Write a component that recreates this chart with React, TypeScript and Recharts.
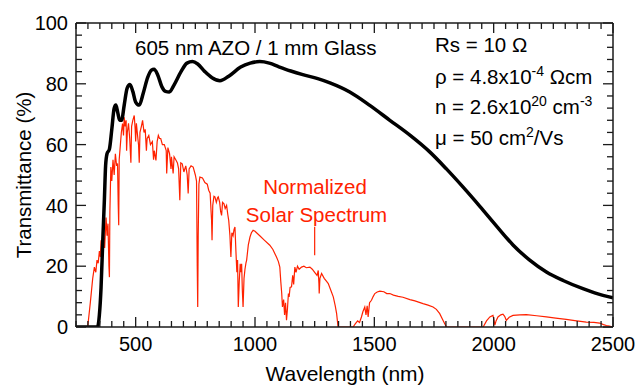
import React from 'react';
import { LineChart, Line, XAxis, YAxis, ReferenceLine, Customized } from 'recharts';

// AZO film transmittance (nm, %)
const filmNm = [
  250, 300, 340, 348, 355, 362, 369, 374, 380, 390, 400, 410, 417, 425, 433, 441, 452, 464, 476,
  488, 500, 515, 532, 550, 566, 577, 592, 610, 625, 641, 660, 690, 715, 738, 760, 790, 820, 853,
  890, 940, 980, 1020, 1060, 1100, 1150, 1200, 1263, 1314, 1397, 1481, 1565, 1649, 1732, 1802,
  1872, 1942, 2012, 2081, 2151, 2221, 2291, 2374, 2458, 2500,
];
const filmT = [
  0, 0, 0, 4, 13, 28, 42, 53, 57, 58.5, 65, 72, 73, 70.5, 68, 68, 73, 78.5, 79.8,
  77.5, 74, 73, 77, 82, 84.5, 84.8, 83, 79, 77.5, 77.3, 79.5, 84, 86.8, 87.3, 86.5, 84, 82, 81,
  82.5, 85.5, 86.8, 87.3, 86.8, 85.6, 84.2, 83, 81.7, 80.3, 77.3, 72.9, 68, 63.1, 57.6, 52,
  46, 39.7, 33.2, 27, 22, 18.1, 15.3, 12.6, 10.4, 9.6,
];

// normalized AM1.5 solar spectrum (nm, %)
const solarNm = [
  250, 299, 310, 320, 327, 333, 338, 343, 348, 352, 355, 360, 365, 370, 376, 380, 384, 388, 390,
  392, 396, 400, 405, 410, 415, 420, 424, 427, 429, 431, 436, 440, 445, 449, 452, 456, 460, 462,
  465, 470, 475, 480, 483, 488, 494, 498, 500, 503, 508, 512, 515, 518, 524, 529, 535, 540, 545,
  548, 555, 562, 570, 575, 578, 585, 590, 595, 600, 605, 612, 620, 628, 630, 635, 642, 648, 650,
  657, 661, 668, 675, 680, 685, 689, 695, 702, 710, 716, 720, 724, 732, 741, 750, 755, 758, 760,
  762, 765, 769, 780, 790, 800, 806, 812, 816, 818, 820, 823, 828, 832, 838, 843, 846, 852, 856,
  860, 864, 870, 875, 881, 886, 890, 895, 899, 903, 908, 912, 916, 920, 924, 927, 930, 934, 938,
  941, 944, 947, 950, 954, 958, 962, 965, 972, 979, 985, 992, 1000, 1020, 1040, 1062, 1075, 1090,
  1098, 1104, 1108, 1112, 1115, 1120, 1124, 1128, 1132, 1136, 1140, 1143, 1147, 1153, 1158, 1162,
  1167, 1172, 1178, 1185, 1195, 1205, 1215, 1230, 1240, 1250, 1260, 1265, 1268, 1269, 1272, 1279,
  1290, 1300, 1307, 1318, 1328, 1336, 1342, 1348, 1411, 1420, 1430, 1438, 1446, 1452, 1460, 1465,
  1470, 1474, 1480, 1488, 1495, 1502, 1512, 1523, 1540, 1552, 1565, 1580, 1600, 1620, 1649, 1670,
  1704, 1725, 1746, 1760, 1774, 1786, 1795, 1802, 1956, 1970, 1984, 1997, 2002, 2005, 2010, 2018,
  2030, 2039, 2046, 2053, 2065, 2081, 2110, 2137, 2180, 2221, 2260, 2304, 2340, 2388, 2420, 2444,
  2460, 2472, 2485, 2500,
];
const solarT = [
  0, 0, 8, 16, 19.7, 18, 22, 21, 25, 23, 28.5, 27, 31, 26, 36, 30, 34, 20, 16.4,
  38, 52.6, 48, 55, 50, 57, 53, 53.8, 40, 33.5, 55, 60, 64, 66.9, 63, 69, 66, 68, 58,
  64, 67, 62, 54, 66, 68, 69.6, 65, 61, 67, 63, 60, 54, 64, 66, 68, 64, 65, 58,
  62, 63, 60, 61, 55, 58, 54.8, 61, 63, 62, 62, 60, 60, 58, 50.5, 59, 57, 52, 56,
  50.5, 56, 55, 54, 52, 41.7, 54, 53.7, 51, 53, 50, 43.9, 52, 53, 52.6, 50, 48, 20, 6.6,
  30, 47, 49.3, 49, 47.5, 47, 45, 44, 38, 35.1, 28.5, 40, 43, 42.8, 41, 42.5, 42.8, 41, 38,
  36.7, 41, 40.5, 39, 40, 37, 35, 30, 23, 31, 30, 32, 32.9, 25, 18, 22, 6.6, 15, 20.8,
  18, 20.8, 12, 6.6, 16, 19, 21, 22, 27, 29.6, 31, 31.8, 31.5, 30, 28.5, 26.9, 25.5, 23,
  21.5, 19.7, 15, 11, 6.6, 9, 4, 8, 2.2, 6, 11, 9.9, 13, 13.2, 17, 14,
  19.7, 18, 20, 19, 19.7, 20, 19.5, 19.7, 19, 18, 17, 18.6, 14, 11, 16, 17.6,
  16, 15, 14.3, 12, 9.9, 7, 4.4, 0, 0, 1, 2, 1.5, 3.3, 5, 6.6, 4,
  7, 3.3, 8, 8.8, 10, 11, 11.5, 11.8, 11.6, 11, 11, 10.5, 10.1, 9.8, 9, 8.6,
  7.7, 7.2, 6.6, 5.8, 4.4, 2.5, 1.1, 0, 0, 2, 3.3, 3.8, 2, 0.6, 2, 3.3,
  4, 4.2, 3.5, 2.2, 3.2, 3.8, 4, 4.1, 3.7, 3.3, 2.9, 2.5, 2.1, 1.6, 1.5, 1.3,
  0.8, 0.5, 0.3, 0,
];

const xTicks = Array.from({ length: 46 }, (_, i) => 250 + i * 50);
const yTicks = Array.from({ length: 26 }, (_, i) => i * 4);

const filmData = filmNm.map((nm, i) => ({ nm, t: filmT[i] }));
const solarData = solarNm.map((nm, i) => ({ nm, t: solarT[i] }));

const RED = '#ff2200';
const AXIS = '#1a1a1a';
const FONT = '"Liberation Sans", Arial, sans-serif';

const tickLen = (major: boolean) => (major ? 10 : 6);

function XTick({ x, y, payload, top }: any) {
  const major = payload.value % 500 === 0;
  const len = tickLen(major);
  return (
    <g>
      <line x1={x} y1={y} x2={x} y2={top ? y + len : y - len} stroke={AXIS} strokeWidth={1.3} />
      {!top && major && (
        <text x={x} y={y + 23.5} textAnchor="middle" fontSize={20} fill="#000" fontFamily={FONT}>
          {payload.value}
        </text>
      )}
    </g>
  );
}

function YTick({ x, y, payload, right }: any) {
  const major = payload.value % 20 === 0;
  const len = tickLen(major);
  return (
    <g>
      <line x1={x} y1={y} x2={right ? x - len : x + len} y2={y} stroke={AXIS} strokeWidth={1.3} />
      {!right && major && (
        <text x={x - 8} y={y} dy="0.36em" textAnchor="end" fontSize={20} fill="#000" fontFamily={FONT}>
          {payload.value}
        </text>
      )}
    </g>
  );
}

function Notes() {
  const fs = 20.5;
  return (
    <g fontFamily={FONT} fill="#000">
      <text x={135} y={54.5} fontSize={fs}>605 nm AZO / 1 mm Glass</text>
      <text x={435} y={52} fontSize={fs}>Rs = 10 Ω</text>
      <text x={435} y={83.5} fontSize={fs}>
        ρ = 4.8x10<tspan dy={-8} fontSize={14}>-4</tspan>
        <tspan dy={8} fontSize={fs}> Ωcm</tspan>
      </text>
      <text x={435} y={114} fontSize={fs}>
        n = 2.6x10<tspan dy={-8} fontSize={14}>20</tspan>
        <tspan dy={8} fontSize={fs}> cm</tspan>
        <tspan dy={-8} fontSize={14}>-3</tspan>
      </text>
      <text x={435} y={145} fontSize={fs}>
        μ = 50 cm<tspan dy={-8} fontSize={14}>2</tspan>
        <tspan dy={8} fontSize={fs}>/Vs</tspan>
      </text>
      <text x={315} y={193.5} fontSize={fs} textAnchor="middle" fill={RED}>Normalized</text>
      <text x={316.5} y={221.5} fontSize={fs} textAnchor="middle" fill={RED}>Solar Spectrum</text>
      <text x={345} y={381} fontSize={21} textAnchor="middle">Wavelength (nm)</text>
      <text x={31} y={175} fontSize={20.5} textAnchor="middle" transform="rotate(-90 31 175)">
        Transmittance (%)
      </text>
    </g>
  );
}

export default function App() {
  return (
    <div style={{ position: 'absolute', left: 0, top: 0, width: 638, height: 386, background: '#fff' }}>
      <LineChart width={638} height={386} margin={{ top: 13, right: 15, bottom: 19, left: 16 }}>
        <XAxis
          xAxisId="b" dataKey="nm" type="number" domain={[250, 2500]} allowDataOverflow
          orientation="bottom" height={40} ticks={xTicks} interval={0}
          tick={<XTick />} tickSize={0} tickMargin={0} tickLine={false}
          axisLine={{ stroke: AXIS, strokeWidth: 1.5 }}
        />
        <XAxis
          xAxisId="t" dataKey="nm" type="number" domain={[250, 2500]} allowDataOverflow
          orientation="top" height={10} ticks={xTicks} interval={0}
          tick={<XTick top />} tickSize={0} tickMargin={0} tickLine={false}
          axisLine={{ stroke: AXIS, strokeWidth: 1.5 }}
        />
        <YAxis
          yAxisId="l" type="number" domain={[0, 100]} allowDataOverflow
          orientation="left" width={60} ticks={yTicks} interval={0}
          tick={<YTick />} tickSize={0} tickMargin={0} tickLine={false}
          axisLine={{ stroke: AXIS, strokeWidth: 1.5 }}
        />
        <YAxis
          yAxisId="r" type="number" domain={[0, 100]} allowDataOverflow
          orientation="right" width={10} ticks={yTicks} interval={0}
          tick={<YTick right />} tickSize={0} tickMargin={0} tickLine={false}
          axisLine={{ stroke: AXIS, strokeWidth: 1.5 }}
        />
        <Line
          data={solarData} dataKey="t" xAxisId="b" yAxisId="l" type="linear"
          stroke={RED} strokeWidth={1.2} dot={false} activeDot={false} isAnimationActive={false}
        />
        <Line
          data={filmData} dataKey="t" xAxisId="b" yAxisId="l" type="monotone"
          stroke="#000" strokeWidth={3.5} dot={false} activeDot={false} isAnimationActive={false}
        />
        <ReferenceLine
          xAxisId="b" yAxisId="l"
          segment={[{ x: 1250, y: 23.6 }, { x: 1250, y: 33 }]}
          stroke={RED} strokeWidth={1.2}
        />
        <Customized component={Notes} />
      </LineChart>
    </div>
  );
}
